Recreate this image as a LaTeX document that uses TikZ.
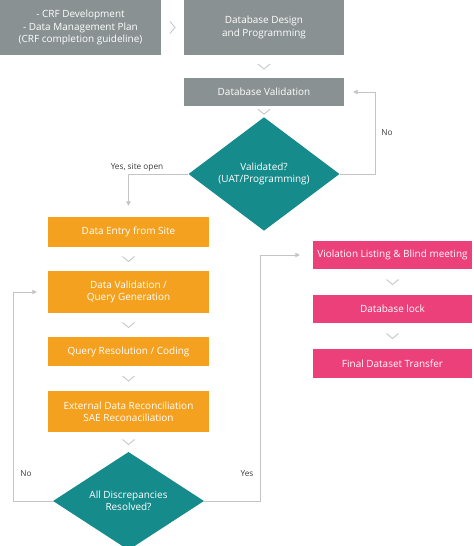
\documentclass[tikz,border=0pt]{standalone}
\usepackage{fontspec}
\setmainfont{Open Sans}
\usetikzlibrary{shapes.geometric,arrows.meta,calc}
\definecolor{boxgray}{HTML}{8A9192}
\definecolor{tealc}{HTML}{168B8B}
\definecolor{orangec}{HTML}{F4A11F}
\definecolor{pinkc}{HTML}{EC407A}
\definecolor{linegray}{HTML}{C4C4C4}
\definecolor{chevgray}{HTML}{BFC3C3}
\definecolor{labelgray}{HTML}{3A3A3A}
\begin{document}
\begin{tikzpicture}[x=1bp,y=-1bp,
  box/.style={rectangle, inner sep=0pt, align=center, text=white,
    font=\fontsize{10}{12.4}\selectfont},
  graybox/.style={box, fill=boxgray},
  orangebox/.style={box, fill=orangec, minimum width=161bp},
  pinkbox/.style={box, fill=pinkc, minimum width=159bp},
  decision/.style={diamond, fill=tealc, inner sep=0pt, align=center, text=white,
    minimum width=151bp, minimum height=88bp,
    font=\fontsize{10}{12.4}\selectfont},
  conn/.style={draw=linegray, line width=0.9bp, -{Triangle[width=4.5bp,length=4.5bp]}},
  chev/.style={draw=chevgray, line width=0.8bp},
  lbl/.style={text=labelgray, inner sep=0pt, font=\fontsize{8.3}{10}\selectfont}
]
\useasboundingbox (0,0) rectangle (474,546);

% gray boxes
\node[graybox, minimum width=161bp, minimum height=55bp] (b1) at (80.5,27.5)
  {- CRF Development\\- Data Management Plan\\(CRF completion guideline)};
\node[graybox, minimum width=160bp, minimum height=55bp] (b2) at (264,27.5)
  {Database Design\\and Programming};
\node[graybox, minimum width=160bp, minimum height=28bp] (b3) at (264,92)
  {Database Validation};
\node[decision] (d1) at (264,174) {Validated?\\(UAT/Programming)};

% orange boxes
\node[orangebox, minimum height=30bp] (e1) at (128.5,232) {Data Entry from Site};
\node[orangebox, minimum height=42bp] (e2) at (128.5,292) {Data Validation /\\Query Generation};
\node[orangebox, minimum height=29bp] (e3) at (128.5,351.5) {Query Resolution / Coding};
\node[orangebox, minimum height=41bp] (e4) at (128.5,411.5) {External Data Reconciliation\\SAE Reconaciliation};
\node[decision] (d2) at (128.5,501) {All Discrepancies\\Resolved?};

% pink boxes
\node[pinkbox, minimum height=28bp] (p1) at (392.5,255) {Violation Listing \& Blind meeting};
\node[pinkbox, minimum height=28bp] (p2) at (392.5,309) {Database lock};
\node[pinkbox, minimum height=29bp] (p3) at (392.5,363.5) {Final Dataset Transfer};

% chevrons
\draw[chev] ($(b1.east)!0.5!(b2.west)$) ++(-2.5,-6) -- ++(5,6) -- ++(-5,6);
\foreach \a/\b in {b2/b3, b3/d1, e1/e2, e2/e3, e3/e4, e4/d2, p1/p2, p2/p3}
  \draw[chev] ($(\a.south)!0.5!(\b.north)$) ++(-6,-2.5) -- ++(6,5) -- ++(6,-5);

% connectors
\draw[conn, shorten >=9bp] (d1.east) -- ++(36,0) |- (b3.east);
\draw[conn, shorten >=11bp] (d1.west) -| (e1.north);
\draw[conn, shorten >=11bp] (d2.west) -- ++(-39,0) |- (e2.west);
\draw[conn, shorten >=13bp] (d2.east) -- ++(56,0) |- (p1.west);

% labels
\node[lbl] (lno1) at (387,133) {No};
\node[lbl] (lyes1) at (137,167) {Yes, site open};
\node[lbl] (lno2) at (26,474) {No};
\node[lbl] (lyes2) at (247,474) {Yes};
\end{tikzpicture}
\end{document}
